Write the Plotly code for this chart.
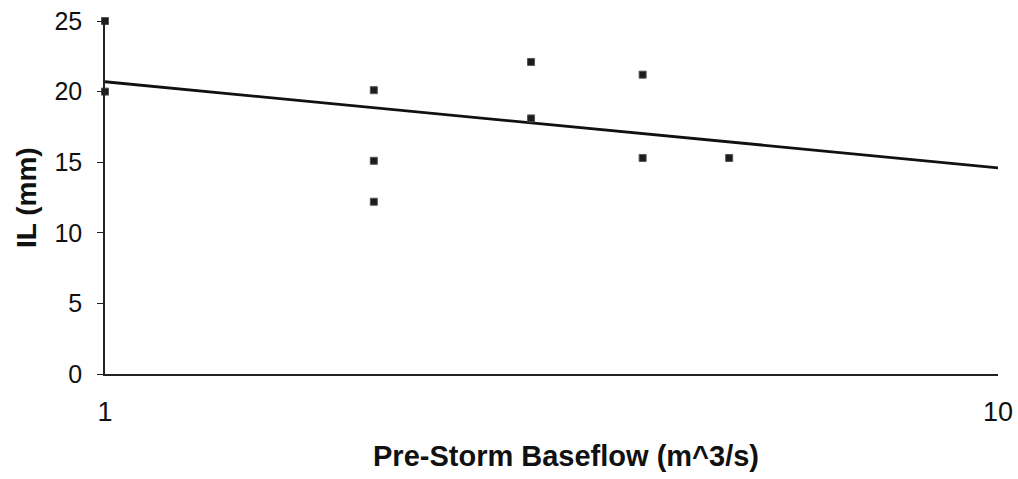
import plotly.graph_objects as go

# Data
baseflow = [1, 1, 2, 2, 2, 3, 3, 4, 4, 5]          # Pre-storm baseflow (m^3/s)
il_mm = [25, 20, 20.1, 15.1, 12.2, 22.1, 18.1, 21.2, 15.3, 15.3]  # IL (mm)
trend_x = [1, 10]          # logarithmic trendline end points
trend_y = [20.7, 14.6]
y_ticks = [0, 5, 10, 15, 20, 25]
x_ticks = [1, 10]

FONT = "Liberation Sans, Arial, Helvetica, sans-serif"

L, R, T, B = 105, 20, 21, 105
W, H = 1018, 479

fig = go.Figure()
fig.add_trace(go.Scatter(
    x=trend_x, y=trend_y, mode="lines",
    line=dict(color="#111111", width=2.8),
    hoverinfo="skip", showlegend=False, cliponaxis=False,
))
fig.add_trace(go.Scatter(
    x=baseflow, y=il_mm, mode="markers",
    marker=dict(symbol="square", size=7, color="#1c1c1c",
                line=dict(color="#555555", width=1)),
    showlegend=False, cliponaxis=False,
))

fig.update_layout(
    width=W, height=H,
    margin=dict(l=L, r=R, t=T, b=B, autoexpand=False),
    paper_bgcolor="white", plot_bgcolor="white",
    font=dict(family=FONT, color="#111111"),
    xaxis=dict(
        type="log", range=[0, 1], automargin=False,
        tickvals=x_ticks, ticktext=[str(v) for v in x_ticks],
        showgrid=False, zeroline=False,
        showline=True, linecolor="#222222", linewidth=1.5,
        ticks="inside", ticklen=7, tickwidth=1.5, tickcolor="#222222",
        tickfont=dict(size=27, family=FONT, color="#111111"),
        ticklabelstandoff=13, ticklabeloverflow="allow",
    ),
    yaxis=dict(
        range=[0, 25], automargin=False,
        tickvals=y_ticks,
        showgrid=False, zeroline=False,
        showline=True, linecolor="#222222", linewidth=1.5,
        ticks="outside", ticklen=6, tickwidth=1.2, tickcolor="#222222",
        tickfont=dict(size=25, family=FONT, color="#111111"),
        ticklabelstandoff=10, ticklabeloverflow="allow",
    ),
    annotations=[
        dict(text="<b>Pre-Storm Baseflow (m^3/s)</b>", x=566, y=456,
             xref="paper", yref="paper", showarrow=False,
             font=dict(size=29, family=FONT, color="#111111")),
        dict(text="<b>IL (mm)</b>", x=26, y=198,
             xref="paper", yref="paper", showarrow=False, textangle=-90,
             font=dict(size=28, family=FONT, color="#111111")),
    ],
)

# convert pixel positions (from figure top-left) of annotations into paper fractions
pw = W - L - R
ph = H - T - B
for a in fig.layout.annotations:
    a.x = (a.x - L) / pw
    a.y = (H - a.y - B) / ph
    a.xanchor = "center"
    a.yanchor = "middle"

fig.write_html(
    "out.html",
    config={"displayModeBar": False},
    post_script="document.body.style.margin='0';"
                "document.documentElement.style.overflow='hidden';"
                "document.body.style.overflow='hidden';",
)
